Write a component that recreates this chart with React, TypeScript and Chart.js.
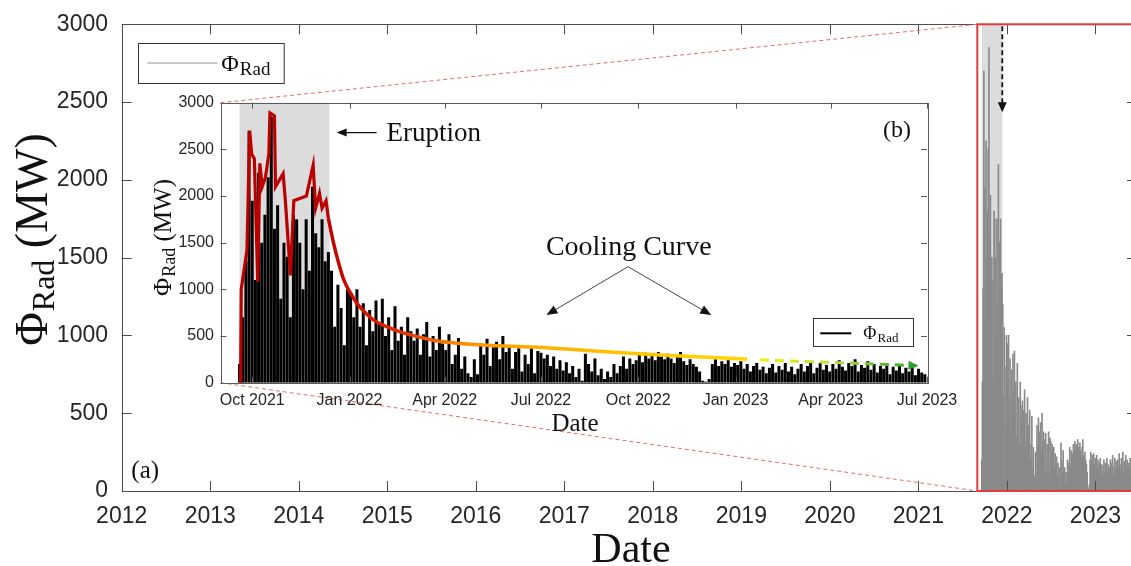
import React, { useEffect, useRef } from 'react';
import { Chart, registerables } from 'chart.js';
Chart.register(...registerables);

const SANS = "'Liberation Sans', Arial, Helvetica, sans-serif";
const SERIF = "'Liberation Serif', 'Times New Roman', serif";

// ---------------- DATA ----------------
// Day offsets are counted from 1 Sep 2021. Samples every 3 days starting 19 Sep 2021.
const sampleStartDay = 18;
const sampleStepDays = 3;
// Radiated power (MW) at each sample
const radPowerMW = [
  // eruption 19 Sep - 13 Dec 2021
  200, 700, 1300, 2700, 1950, 1100, 2250, 1500, 1800, 2200, 2850, 1650, 1900, 900, 1500,
  1350, 700, 1800, 1750, 1500, 1000, 1750, 1200, 2100, 1600, 1450, 1750, 1300, 1400,
  // late Dec 2021
  1200, 600, 1050, 800, 400, 1000,
  // Jan 2022
  950, 700, 1000, 600, 850, 400, 780, 550, 880, 650,
  // Feb 2022
  900, 500, 700, 350, 820, 450, 600, 300, 700, 550,
  // Mar 2022
  450, 580, 300, 520, 650, 280, 500, 350, 600, 420,
  // Apr 2022
  350, 520, 200, 300, 480, 150, 280, 100, 60, 250,
  // May 2022
  90, 420, 300, 470, 180, 380, 440, 250, 500, 330,
  // Jun 2022
  380, 150, 330, 370, 120, 300, 200, 380, 100, 340,
  // Jul 2022
  320, 260, 300, 180, 280, 150, 240, 130, 220, 100, 180,
  // Aug 2022
  60, 150, 20, 310, 200, 120, 260, 80, 150, 40,
  // Sep 2022
  120, 60, 200, 100, 180, 280, 150, 260, 200, 240,
  // Oct 2022
  300, 220, 320, 260, 300, 240, 330, 280, 250, 310,
  // Nov 2022
  260, 210, 280, 330, 230, 190, 250, 200, 170, 120,
  // Dec 2022
  20, 10, 40, 200, 250, 180, 230, 200, 240, 170, 210,
  // Jan 2023
  190, 230, 150, 200, 120, 180, 210, 140, 170, 100,
  // Feb 2023
  160, 200, 110, 180, 140, 210, 120, 170, 90,
  // Mar 2023
  150, 200, 120, 180, 230, 100, 160, 210, 140, 190, 120,
  // Apr 2023
  200, 150, 240, 170, 130, 210, 180, 250, 120, 190,
  // May 2023
  160, 230, 140, 200, 110, 180, 150, 210, 90, 170,
  // Jun 2023
  130, 190, 100, 160, 120, 200, 80, 150, 110, 90,
];

// Eruption envelope (red)
const envelopeDays = [19, 19.6, 25, 27.6, 29.5, 32, 35.2, 37.2, 39.4, 42.5, 45.7, 46.8, 51, 52, 55.1, 59.2, 61.4, 66.1, 69.3, 81.2, 87.6, 89.9, 93.6, 96, 99.8, 102];
const envelopeMW = [0, 1000, 1420, 2700, 2450, 2400, 1080, 2350, 2100, 2200, 2450, 2890, 2860, 2100, 2160, 2240, 1940, 1150, 1950, 2000, 2330, 1870, 2030, 1870, 1950, 1760];

// Cooling curve (solid)
const coolingDays = [102, 107, 112, 117, 123, 129, 137, 145, 157, 170, 186, 201, 217, 233, 264, 300, 340, 380, 420, 460, 498];
const coolingMW = [1760, 1490, 1270, 1090, 960, 850, 750, 670, 600, 545, 495, 455, 430, 415, 395, 380, 350, 320, 295, 272, 252];

// Cooling curve extrapolation (dashed)
const forecastDays = [510, 560, 610, 658];
const forecastMW = [245, 224, 204, 182];

const eruptionStartDay = 18; // 19 Sep 2021
const eruptionEndDay = 103; // 13 Dec 2021
const zoomStartDay = 0; // 1 Sep 2021

const yTicks = [0, 500, 1000, 1500, 2000, 2500, 3000];
const mainYearTicks = [2012, 2013, 2014, 2015, 2016, 2017, 2018, 2019, 2020, 2021, 2022, 2023];
const insetTickDays = [30, 122, 212, 303, 395, 487, 577, 668];
const insetTickLabels = ['Oct 2021', 'Jan 2022', 'Apr 2022', 'Jul 2022', 'Oct 2022', 'Jan 2023', 'Apr 2023', 'Jul 2023'];
const insetXMin = 0;
const insetXMax = 668;

// styles
const coolingColorStops: [number, string][] = [
  [102, '#c00000'], [170, '#e03000'], [225, '#ff8a00'], [300, '#ffb000'], [400, '#ffc800'], [498, '#ffd700'],
];
const forecastColorStops: [number, string][] = [
  [510, '#f2f200'], [580, '#b8dc3a'], [658, '#2ca02c'],
];

// ---------------- LAYOUT ----------------
const PAGE_W = 1131;
const PAGE_H = 566;
const MAIN_W = 1160;
const MAIN_LEFT = 121.7;
const MAIN_TOP = 24.3;
const MAIN_BOTTOM = 491;
const MAIN_RIGHT = 1137;
const MAIN_X_MIN = 2012;
const MAIN_X_MAX = 2012 + (MAIN_RIGHT - MAIN_LEFT) / 88.52;
const INSET = { left: 140, top: 86, width: 820, height: 360 };
const INSET_AREA = { left: 220.5, top: 102.7, right: 927, bottom: 382.7 }; // page coords

const SHADE = '#dcdcdc';

const dayToYear = (d: number) => 2021 + (243 + d) / 365;
const sampleDays = radPowerMW.map((_, i) => sampleStartDay + i * sampleStepDays);

function drawPhiRad(ctx: CanvasRenderingContext2D, x: number, y: number, size: number, subSize: number, subDrop: number, suffix: string, align: 'left' | 'center') {
  ctx.font = `${size}px ${SERIF}`;
  const wPhi = ctx.measureText('Φ').width;
  const wSuf = suffix ? ctx.measureText(suffix).width : 0;
  ctx.font = `${subSize}px ${SERIF}`;
  const wSub = ctx.measureText('Rad').width;
  const total = wPhi + wSub + wSuf;
  const x0 = align === 'center' ? x - total / 2 : x;
  ctx.textAlign = 'left';
  ctx.textBaseline = 'alphabetic';
  ctx.font = `${size}px ${SERIF}`;
  ctx.fillText('Φ', x0, y);
  ctx.font = `${subSize}px ${SERIF}`;
  ctx.fillText('Rad', x0 + wPhi + 1, y + subDrop);
  if (suffix) {
    ctx.font = `${size}px ${SERIF}`;
    ctx.fillText(suffix, x0 + wPhi + wSub + 1, y);
  }
}

function arrowHead(ctx: CanvasRenderingContext2D, x1: number, y1: number, x2: number, y2: number, len: number, wid: number) {
  const ang = Math.atan2(y2 - y1, x2 - x1);
  const bx = x2 - len * Math.cos(ang);
  const by = y2 - len * Math.sin(ang);
  const nx = -Math.sin(ang) * wid / 2;
  const ny = Math.cos(ang) * wid / 2;
  ctx.beginPath();
  ctx.moveTo(x2, y2);
  ctx.lineTo(bx + nx, by + ny);
  ctx.lineTo(bx - nx, by - ny);
  ctx.closePath();
  ctx.fill();
}

function arrow(ctx: CanvasRenderingContext2D, x1: number, y1: number, x2: number, y2: number, len: number, wid: number) {
  const ang = Math.atan2(y2 - y1, x2 - x1);
  ctx.beginPath();
  ctx.moveTo(x1, y1);
  ctx.lineTo(x2 - len * 0.8 * Math.cos(ang), y2 - len * 0.8 * Math.sin(ang));
  ctx.stroke();
  arrowHead(ctx, x1, y1, x2, y2, len, wid);
}

const mainDecor = {
  id: 'mainDecor',
  beforeDatasetsDraw(chart: any) {
    const { ctx, chartArea: a, scales: { x } } = chart;
    const x0 = x.getPixelForValue(dayToYear(eruptionStartDay));
    const x1 = x.getPixelForValue(dayToYear(eruptionEndDay));
    ctx.save();
    ctx.fillStyle = SHADE;
    ctx.fillRect(x0, a.top, x1 - x0, a.bottom - a.top);
    ctx.restore();
  },
  afterDraw(chart: any) {
    const { ctx, chartArea: a, scales: { x, y } } = chart;
    ctx.save();
    // frame
    ctx.strokeStyle = '#4d4d4d';
    ctx.lineWidth = 1;
    ctx.strokeRect(Math.round(a.left) + 0.5, Math.round(a.top) + 0.5, a.right - a.left, Math.round(a.bottom - a.top));
    ctx.beginPath();
    for (const v of mainYearTicks) {
      const px = Math.round(x.getPixelForValue(v)) + 0.5;
      ctx.moveTo(px, a.bottom); ctx.lineTo(px, a.bottom - 10);
      ctx.moveTo(px, a.top); ctx.lineTo(px, a.top + 10);
    }
    for (const v of yTicks) {
      const py = Math.round(y.getPixelForValue(v)) + 0.5;
      ctx.moveTo(a.left, py); ctx.lineTo(a.left + 10, py);
      ctx.moveTo(a.right, py); ctx.lineTo(a.right - 10, py);
    }
    ctx.stroke();

    // zoom box
    const bx = x.getPixelForValue(dayToYear(zoomStartDay));
    ctx.strokeStyle = '#e03a3a';
    ctx.lineWidth = 2;
    ctx.strokeRect(bx, a.top, a.right + 10 - bx, a.bottom - a.top);

    // connectors
    ctx.setLineDash([4, 3]);
    ctx.lineWidth = 1;
    ctx.strokeStyle = '#e86a6a';
    ctx.beginPath();
    ctx.moveTo(INSET_AREA.left, INSET_AREA.top); ctx.lineTo(bx, a.top);
    ctx.moveTo(INSET_AREA.left, INSET_AREA.bottom); ctx.lineTo(bx, a.bottom);
    ctx.stroke();

    // dashed black arrow at end of eruption
    const ax = x.getPixelForValue(dayToYear(eruptionEndDay));
    ctx.setLineDash([5, 3]);
    ctx.strokeStyle = '#111';
    ctx.lineWidth = 1.8;
    ctx.beginPath();
    ctx.moveTo(ax, a.top + 2); ctx.lineTo(ax, a.top + 80);
    ctx.stroke();
    ctx.setLineDash([]);
    ctx.fillStyle = '#111';
    arrowHead(ctx, ax, a.top, ax, a.top + 88, 10, 9);

    // legend
    const lx = a.left + 16.6, ly = a.top + 18.7;
    ctx.fillStyle = '#fff';
    ctx.fillRect(lx, ly, 145.7, 40);
    ctx.strokeStyle = '#333';
    ctx.lineWidth = 1;
    ctx.strokeRect(Math.round(lx) + 0.5, Math.round(ly) + 0.5, 145.7, 40);
    ctx.strokeStyle = '#c8c8c8';
    ctx.lineWidth = 2;
    ctx.beginPath();
    ctx.moveTo(lx + 9, ly + 20); ctx.lineTo(lx + 79, ly + 20);
    ctx.stroke();
    ctx.fillStyle = '#111';
    drawPhiRad(ctx, lx + 83, ly + 28, 24, 19, 4, '', 'left');

    // (a)
    ctx.font = `25px ${SERIF}`;
    ctx.textAlign = 'center';
    ctx.textBaseline = 'alphabetic';
    ctx.fillText('(a)', a.left + 23.5, a.bottom - 13);

    // axis titles
    ctx.font = `42px ${SERIF}`;
    ctx.fillText('Date', 631, 562);
    ctx.save();
    ctx.translate(47, 240);
    ctx.rotate(-Math.PI / 2);
    drawPhiRad(ctx, 0, 0, 46, 32, 7, ' (MW)', 'center');
    ctx.restore();
    ctx.restore();
  },
};

const insetDecor = {
  id: 'insetDecor',
  beforeDatasetsDraw(chart: any) {
    const { ctx, chartArea: a, scales: { x } } = chart;
    const x0 = x.getPixelForValue(eruptionStartDay);
    const x1 = x.getPixelForValue(eruptionEndDay);
    ctx.save();
    ctx.fillStyle = SHADE;
    ctx.fillRect(x0, a.top, x1 - x0, a.bottom - a.top);
    ctx.restore();
  },
  afterDatasetsDraw(chart: any) {
    const { ctx, scales: { x, y } } = chart;
    const n = forecastDays.length;
    const tx = x.getPixelForValue(forecastDays[n - 1]);
    const ty = y.getPixelForValue(forecastMW[n - 1]);
    const px = x.getPixelForValue(forecastDays[n - 2]);
    const py = y.getPixelForValue(forecastMW[n - 2]);
    ctx.save();
    ctx.fillStyle = '#2ca02c';
    arrowHead(ctx, px, py, tx + 2, ty, 10, 9);
    ctx.restore();
  },
  afterDraw(chart: any) {
    const { ctx, chartArea: a, scales: { x, y } } = chart;
    ctx.save();
    ctx.strokeStyle = '#5a5a5a';
    ctx.lineWidth = 1;
    ctx.strokeRect(Math.round(a.left) + 0.5, Math.round(a.top) + 0.5, Math.round(a.right - a.left), Math.round(a.bottom - a.top));
    ctx.beginPath();
    for (const v of insetTickDays) {
      const px = Math.round(x.getPixelForValue(v)) + 0.5;
      ctx.moveTo(px, a.bottom); ctx.lineTo(px, a.bottom - 6);
      ctx.moveTo(px, a.top); ctx.lineTo(px, a.top + 6);
    }
    for (const v of yTicks) {
      const py = Math.round(y.getPixelForValue(v)) + 0.5;
      ctx.moveTo(a.left, py); ctx.lineTo(a.left + 6, py);
      ctx.moveTo(a.right, py); ctx.lineTo(a.right - 6, py);
    }
    ctx.stroke();

    ctx.fillStyle = '#111';
    ctx.strokeStyle = '#111';
    // Eruption annotation
    ctx.lineWidth = 1.2;
    const ey = y.getPixelForValue(2680);
    arrow(ctx, x.getPixelForValue(147.6), ey, x.getPixelForValue(109.8), ey, 10, 8);
    ctx.font = `27px ${SERIF}`;
    ctx.textAlign = 'left';
    ctx.textBaseline = 'alphabetic';
    ctx.fillText('Eruption', x.getPixelForValue(157), y.getPixelForValue(2590));

    // Cooling curve annotation
    ctx.font = `28px ${SERIF}`;
    ctx.textAlign = 'center';
    ctx.fillText('Cooling Curve', x.getPixelForValue(386), y.getPixelForValue(1368));
    ctx.strokeStyle = '#444';
    ctx.lineWidth = 1;
    const apx = x.getPixelForValue(385.3), apy = y.getPixelForValue(1243);
    arrow(ctx, apx, apy, x.getPixelForValue(308.2), y.getPixelForValue(725), 11, 9);
    arrow(ctx, apx, apy, x.getPixelForValue(464), y.getPixelForValue(725), 11, 9);

    // (b)
    ctx.font = `24px ${SERIF}`;
    ctx.textAlign = 'center';
    ctx.fillText('(b)', a.right - 30, a.top + 34);

    // legend
    const lx = a.right - 113.7, ly = a.bottom - 64.4;
    ctx.fillStyle = '#fff';
    ctx.fillRect(lx, ly, 100, 28.4);
    ctx.strokeStyle = '#333';
    ctx.strokeRect(Math.round(lx) + 0.5, Math.round(ly) + 0.5, 100, 28);
    ctx.strokeStyle = '#000';
    ctx.lineWidth = 2;
    ctx.beginPath();
    ctx.moveTo(lx + 7, ly + 15); ctx.lineTo(lx + 38, ly + 15);
    ctx.stroke();
    ctx.fillStyle = '#111';
    drawPhiRad(ctx, lx + 50, ly + 21, 18, 13, 3, '', 'left');

    // titles
    ctx.font = `25px ${SERIF}`;
    ctx.textAlign = 'center';
    ctx.fillText('Date', 575 - INSET.left, 431 - INSET.top);
    ctx.save();
    ctx.translate(171 - INSET.left, 238 - INSET.top);
    ctx.rotate(-Math.PI / 2);
    drawPhiRad(ctx, 0, 0, 25, 18, 4, ' (MW)', 'center');
    ctx.restore();
    ctx.restore();
  },
};

function gradientColor(stops: [number, string][], fallback: string) {
  return (c: any) => {
    const ch = c.chart;
    if (!ch.chartArea) return fallback;
    const xs = ch.scales.x;
    const d0 = stops[0][0];
    const d1 = stops[stops.length - 1][0];
    const g = ch.ctx.createLinearGradient(xs.getPixelForValue(d0), 0, xs.getPixelForValue(d1), 0);
    for (const [d, col] of stops) g.addColorStop((d - d0) / (d1 - d0), col);
    return g;
  };
}

const noPad = (s: any) => {
  s.paddingTop = 0; s.paddingBottom = 0; s.paddingLeft = 0; s.paddingRight = 0;
};

export default function App() {
  const mainRef = useRef<HTMLCanvasElement>(null);
  const insetRef = useRef<HTMLCanvasElement>(null);

  useEffect(() => {
    const mainPoints = radPowerMW.map((v, i) => ({ x: dayToYear(sampleDays[i]), y: v }));
    const main = new Chart(mainRef.current as HTMLCanvasElement, {
      type: 'bar',
      data: {
        datasets: [{
          data: mainPoints,
          backgroundColor: '#8a8a8a',
          borderWidth: 0,
          barThickness: 1,
        }],
      },
      options: {
        responsive: false,
        animation: false,
        events: [],
        layout: { padding: { top: MAIN_TOP, right: MAIN_W - MAIN_RIGHT, left: 0, bottom: 0 } },
        plugins: { legend: { display: false }, tooltip: { enabled: false } },
        scales: {
          x: {
            type: 'linear',
            min: MAIN_X_MIN,
            max: MAIN_X_MAX,
            offset: false,
            grid: { display: false, drawTicks: false, offset: false },
            border: { display: false },
            afterBuildTicks: (s: any) => { s.ticks = mainYearTicks.map((v) => ({ value: v })); },
            afterFit: (s: any) => { s.height = PAGE_H - MAIN_BOTTOM; noPad(s); },
            ticks: {
              font: { family: SANS, size: 23 },
              color: '#262626',
              padding: 12,
              maxRotation: 0,
              autoSkip: false,
              callback: (v: any) => String(v),
            },
          },
          y: {
            type: 'linear',
            min: 0,
            max: 3000,
            grid: { display: false, drawTicks: false },
            border: { display: false },
            afterBuildTicks: (s: any) => { s.ticks = yTicks.map((v) => ({ value: v })); },
            afterFit: (s: any) => { s.width = MAIN_LEFT; noPad(s); },
            ticks: {
              font: { family: SANS, size: 23 },
              color: '#262626',
              padding: 13.7,
              callback: (v: any) => String(v),
            },
          },
        },
      },
      plugins: [mainDecor],
    } as any);

    const barPoints = radPowerMW.map((v, i) => ({ x: sampleDays[i], y: v }));
    const envPoints = envelopeMW.map((v, i) => ({ x: envelopeDays[i], y: v }));
    const coolPoints = coolingMW.map((v, i) => ({ x: coolingDays[i], y: v }));
    const fcPoints = forecastMW.map((v, i) => ({ x: forecastDays[i], y: v }));

    const inset = new Chart(insetRef.current as HTMLCanvasElement, {
      type: 'bar',
      data: {
        datasets: [
          {
            type: 'bar',
            data: barPoints,
            backgroundColor: '#000',
            borderWidth: 0,
            barPercentage: 0.95,
            categoryPercentage: 1,
            order: 5,
          },
          {
            type: 'line',
            data: envPoints,
            borderColor: '#bb0000',
            borderWidth: 3.2,
            pointRadius: 0,
            tension: 0,
            fill: false,
            order: 2,
          },
          {
            type: 'line',
            data: coolPoints,
            borderColor: gradientColor(coolingColorStops, '#c00000'),
            borderWidth: 3.5,
            pointRadius: 0,
            cubicInterpolationMode: 'monotone',
            fill: false,
            order: 1,
          },
          {
            type: 'line',
            data: fcPoints,
            borderColor: gradientColor(forecastColorStops, '#9c3'),
            borderWidth: 3,
            borderDash: [9, 6],
            pointRadius: 0,
            cubicInterpolationMode: 'monotone',
            fill: false,
            order: 0,
          },
        ],
      },
      options: {
        responsive: false,
        animation: false,
        events: [],
        layout: {
          padding: {
            top: INSET_AREA.top - INSET.top,
            right: INSET.left + INSET.width - INSET_AREA.right,
            left: 0,
            bottom: 0,
          },
        },
        plugins: { legend: { display: false }, tooltip: { enabled: false } },
        scales: {
          x: {
            type: 'linear',
            min: insetXMin,
            max: insetXMax,
            offset: false,
            grid: { display: false, drawTicks: false, offset: false },
            border: { display: false },
            afterBuildTicks: (s: any) => { s.ticks = insetTickDays.map((v) => ({ value: v })); },
            afterFit: (s: any) => { s.height = INSET.top + INSET.height - INSET_AREA.bottom; noPad(s); },
            ticks: {
              font: { family: SANS, size: 16 },
              color: '#262626',
              padding: 8,
              maxRotation: 0,
              autoSkip: false,
              callback: (_v: any, i: number) => insetTickLabels[i],
            },
          },
          y: {
            type: 'linear',
            min: 0,
            max: 3000,
            grid: { display: false, drawTicks: false },
            border: { display: false },
            afterBuildTicks: (s: any) => { s.ticks = yTicks.map((v) => ({ value: v })); },
            afterFit: (s: any) => { s.width = INSET_AREA.left - INSET.left; noPad(s); },
            ticks: {
              font: { family: SANS, size: 16 },
              color: '#262626',
              padding: 6.5,
              callback: (v: any) => String(v),
            },
          },
        },
      },
      plugins: [insetDecor],
    } as any);

    return () => {
      main.destroy();
      inset.destroy();
    };
  }, []);

  return (
    <div style={{ position: 'fixed', left: 0, top: 0, width: PAGE_W, height: PAGE_H, overflow: 'hidden', background: '#fff' }}>
      <canvas
        ref={mainRef}
        width={MAIN_W}
        height={PAGE_H}
        style={{ position: 'absolute', left: 0, top: 0, width: MAIN_W, height: PAGE_H }}
      />
      <canvas
        ref={insetRef}
        width={INSET.width}
        height={INSET.height}
        style={{ position: 'absolute', left: INSET.left, top: INSET.top, width: INSET.width, height: INSET.height }}
      />
    </div>
  );
}
